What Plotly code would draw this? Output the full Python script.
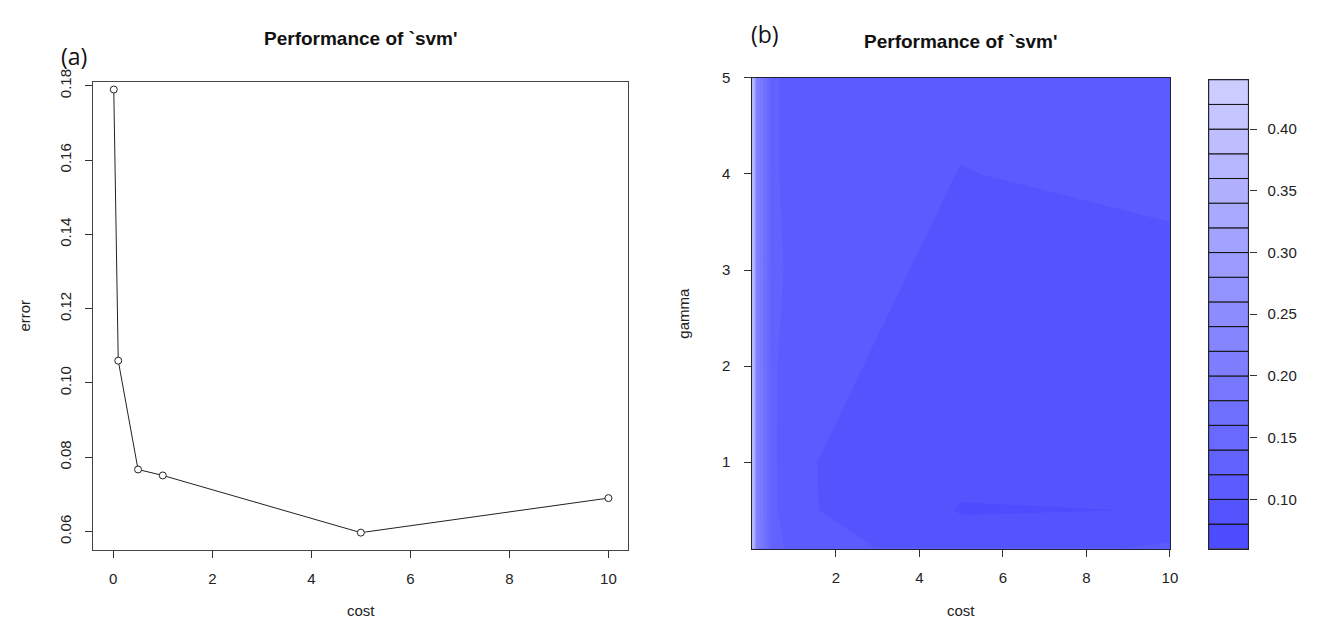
import plotly.graph_objects as go
import colorsys

W, H = 1318, 623

# ---------------- data: panel (a) ----------------
cost_a = [0.01, 0.1, 0.5, 1, 5, 10]
error_a = [0.179, 0.106, 0.0767, 0.0751, 0.0597, 0.069]

# ---------------- data: panel (b) ----------------
cost_b = [0.001, 0.1, 0.5, 1, 5, 10]
gamma_b = [0.1, 0.5, 1, 2, 3, 4, 5]
err_g0_1 = [0.43, 0.22, 0.128, 0.1126, 0.087, 0.104]
err_g0_5 = [0.43, 0.22, 0.124, 0.1037, 0.079, 0.0803]
err_g1 = [0.43, 0.22, 0.124, 0.1024, 0.085, 0.088]
err_g2 = [0.43, 0.22, 0.123, 0.1085, 0.088, 0.092]
err_g3 = [0.43, 0.22, 0.122, 0.118, 0.092, 0.095]
err_g4 = [0.43, 0.22, 0.122, 0.115, 0.0995, 0.105]
err_g5 = [0.43, 0.22, 0.122, 0.115, 0.1045, 0.11]

# contour levels / colour key
levels = [round(0.06 + 0.02 * i, 2) for i in range(20)]  # 0.06 .. 0.44
cb_ticks = [0.10, 0.15, 0.20, 0.25, 0.30, 0.35, 0.40]
x_ticks_a = [0, 2, 4, 6, 8, 10]
y_ticks_a = [0.06, 0.08, 0.10, 0.12, 0.14, 0.16, 0.18]
x_ticks_b = [2, 4, 6, 8, 10]
y_ticks_b = [1, 2, 3, 4, 5]

z_b = [err_g0_1, err_g0_5, err_g1, err_g2, err_g3, err_g4, err_g5]

nb = len(levels) - 1


def band_color(k):
    s = 0.7 - (0.7 - 0.2) * k / (nb - 1)
    r, g, b = colorsys.hsv_to_rgb(2 / 3, s, 1.0)
    return "rgb(%d,%d,%d)" % (round(r * 255), round(g * 255), round(b * 255))


band_colors = [band_color(k) for k in range(nb)]

# step colorscale robust to plotly's fill mapping
cscale = [[0.0, band_colors[0]]]
for k in range(nb):
    lo = (k + 0.5) / 20
    hi = min((k + 1.5) / 20, 1.0)
    cscale.append([lo, band_colors[k]])
    cscale.append([hi, band_colors[k]])
cscale.append([1.0, band_colors[-1]])


def px_x(p):
    return p / W


def px_y(p):
    return 1 - p / H


fig = go.Figure()

# panel (a)
fig.add_trace(go.Scatter(
    x=cost_a, y=error_a, mode="lines+markers",
    line=dict(color="#222", width=1),
    marker=dict(symbol="circle", size=7, color="white",
                line=dict(color="#222", width=1)),
    xaxis="x", yaxis="y", showlegend=False, hoverinfo="skip"))

# panel (b)
fig.add_trace(go.Contour(
    x=cost_b, y=gamma_b, z=z_b,
    contours=dict(start=levels[0], end=levels[-1], size=0.02,
                  coloring="fill", showlines=False),
    line=dict(width=0, smoothing=0), colorscale=cscale,
    zmin=levels[0], zmax=levels[-1],
    showscale=False, xaxis="x2", yaxis="y2", hoverinfo="skip"))

# colour key
fig.add_trace(go.Bar(
    x=[0] * nb, y=[levels[k + 1] - levels[k] for k in range(nb)],
    base=levels[:-1], width=1,
    marker=dict(color=band_colors, line=dict(color="#111", width=1)),
    xaxis="x3", yaxis="y3", showlegend=False, hoverinfo="skip"))

tick_font = dict(family="Liberation Sans, Arial, sans-serif", size=15, color="#222")

axis_common = dict(showgrid=False, zeroline=False, showline=True, mirror=True,
                   ticks="outside", ticklen=7, tickwidth=1, tickcolor="#333",
                   tickfont=tick_font)

fig.update_layout(
    width=W, height=H,
    margin=dict(l=0, r=0, t=0, b=0),
    paper_bgcolor="white", plot_bgcolor="white",
    barmode="overlay",
    xaxis=dict(domain=[px_x(86), px_x(624)], range=[-0.4, 10.4],
               tickvals=x_ticks_a, linecolor="#444", linewidth=1.3,
               ticklabelstandoff=8, anchor="y", **axis_common),
    yaxis=dict(domain=[px_y(540), px_y(62)], range=[0.0551, 0.1811],
               tickvals=y_ticks_a, ticktext=["%.2f" % v for v in y_ticks_a],
               tickangle=-90, linecolor="#444", linewidth=1.3,
               ticklabelstandoff=8, anchor="x", **axis_common),
    xaxis2=dict(domain=[px_x(749), px_x(1169)], range=[0, 10],
                tickvals=x_ticks_b, linecolor="#223", linewidth=1.3,
                ticklabelstandoff=8, anchor="y2", **axis_common),
    yaxis2=dict(domain=[px_y(539), px_y(58)], range=[0.1, 5],
                tickvals=y_ticks_b, linecolor="#223", linewidth=1.3,
                ticklabelstandoff=11, anchor="x2", **axis_common),
    xaxis3=dict(domain=[px_x(1208), px_x(1248)], range=[-0.5, 0.5],
                showticklabels=False, ticks="", showgrid=False, zeroline=False,
                showline=True, mirror=True, linecolor="#223", linewidth=1.3,
                anchor="y3"),
    yaxis3=dict(domain=[px_y(539), px_y(60)], range=[levels[0], levels[-1]],
                side="right", tickvals=cb_ticks,
                ticktext=["%.2f" % v for v in cb_ticks],
                showgrid=False, zeroline=False, showline=True, mirror=True,
                linecolor="#223", linewidth=1.3, ticks="outside", ticklen=7,
                tickwidth=1, tickcolor="#333", tickfont=tick_font,
                ticklabelstandoff=8, anchor="x3"),
)

ann_font = dict(family="Liberation Sans, Arial, sans-serif", size=15, color="#222")
title_font = dict(family="Liberation Sans, Arial, sans-serif", size=19, color="#111")
lab_font = dict(family="Open Sans, Liberation Sans, sans-serif", size=23, color="#111")

annots = [
    dict(text="(a)", x=px_x(66), y=px_y(36), font=lab_font),
    dict(text="(b)", x=px_x(762), y=px_y(13), font=lab_font),
    dict(text="<b>Performance of `svm'</b>", x=px_x(355), y=px_y(18), font=title_font),
    dict(text="<b>Performance of `svm'</b>", x=px_x(959), y=px_y(21), font=title_font),
    dict(text="cost", x=px_x(355), y=px_y(602), font=ann_font),
    dict(text="cost", x=px_x(959), y=px_y(602), font=ann_font),
    dict(text="error", x=px_x(17), y=px_y(301), font=ann_font, textangle=-90),
    dict(text="gamma", x=px_x(680), y=px_y(298), font=ann_font, textangle=-90),
]
for a in annots:
    a.update(xref="paper", yref="paper", showarrow=False,
             xanchor="center", yanchor="middle")
fig.update_layout(annotations=annots)

fig.write_html("out.html")
